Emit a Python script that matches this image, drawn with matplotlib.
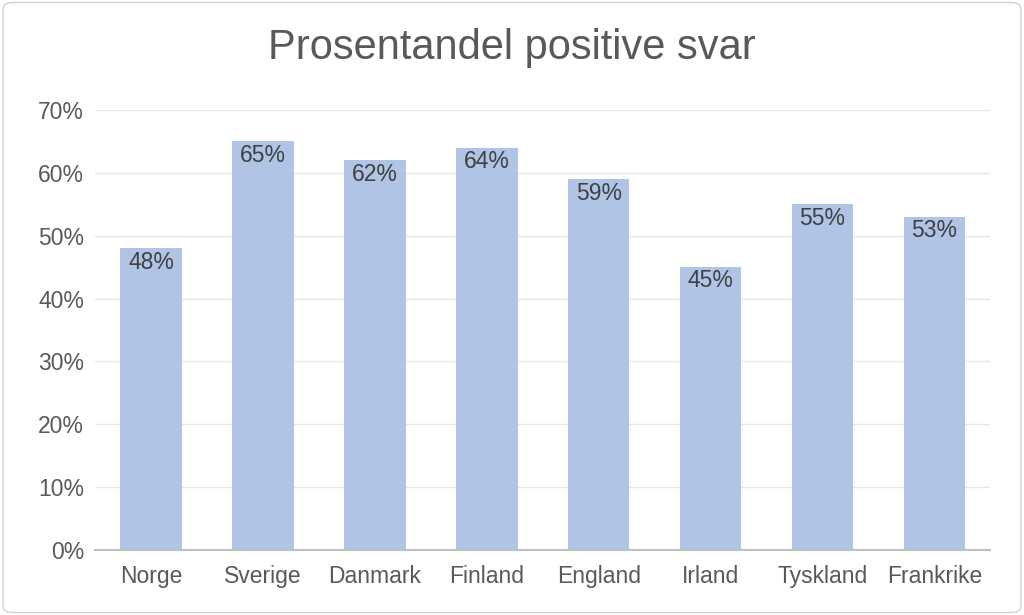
import matplotlib
matplotlib.use("Agg")
import matplotlib.pyplot as plt
from matplotlib.patches import FancyBboxPatch

categories = ["Norge", "Sverige", "Danmark", "Finland", "England", "Irland", "Tyskland", "Frankrike"]
values = [48, 65, 62, 64, 59, 45, 55, 53]
yticks = [0, 10, 20, 30, 40, 50, 60, 70]

plt.rcParams['font.family'] = ['Liberation Sans', 'DejaVu Sans']
fig = plt.figure(figsize=(10.24, 6.15), dpi=100)
fig.patches.append(FancyBboxPatch((0.003, 0.004), 0.994, 0.992, boxstyle="round,pad=0,rounding_size=0.01",
                                  transform=fig.transFigure, fill=False, edgecolor="#d0d0d0", linewidth=1))
ax = fig.add_axes([0.093, 0.106, 0.874, 0.715])
x = range(len(categories))
ax.bar(x, values, width=0.55, color="#b0c4e6", zorder=2)
for xi, v in zip(x, values):
    ax.text(xi, v - 2.2, f"{v}%", ha="center", va="center", fontsize=16.5, color="#404040", zorder=3)
ax.set_xlim(-0.5, len(categories) - 0.5)
ax.set_ylim(0, 70)
ax.set_yticks(yticks)
ax.set_yticklabels([f"{t}%" for t in yticks])
ax.set_xticks(list(x))
ax.set_xticklabels(categories)
ax.tick_params(axis='both', length=0, labelsize=16.5, labelcolor="#595959")
ax.tick_params(axis='x', pad=11)
ax.tick_params(axis='y', pad=8)
ax.grid(axis='y', color="#e6e6e6", linewidth=1, zorder=0)
for s in ["top", "right", "left"]:
    ax.spines[s].set_visible(False)
ax.spines["bottom"].set_color("#bfbfbf")
ax.spines["bottom"].set_linewidth(1.5)
fig.text(0.5, 0.922, "Prosentandel positive svar", ha="center", va="center", fontsize=30, color="#595959")
fig.savefig("out.png", dpi=100)
